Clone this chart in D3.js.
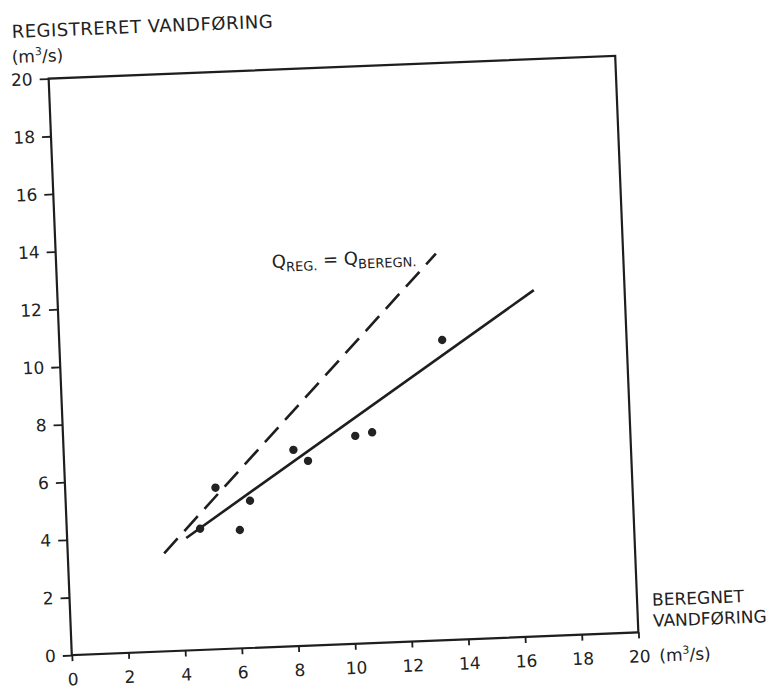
<!DOCTYPE html>
<html>
<head>
<meta charset="utf-8">
<script src="https://cdn.jsdelivr.net/npm/d3@7"></script>
<style>
  body { margin: 0; background: #fff; }
  text { font-family: "DejaVu Sans", sans-serif; fill: #222; }
</style>
</head>
<body>
<script>
// beregnet (x) and registreret (y) vandfoering, m3/s
var beregnet    = [4.7, 5.3, 6.1, 6.5, 8.1, 8.6, 10.3, 10.9, 13.5];
var registreret = [4.2, 5.6, 4.1, 5.1, 6.8, 6.4, 7.2, 7.3, 10.4];

var xTicks = [0, 2, 4, 6, 8, 10, 12, 14, 16, 18, 20];
var yTicks = [0, 2, 4, 6, 8, 10, 12, 14, 16, 18, 20];

// fitted line and the Q_REG = Q_BEREGN line (end points)
var fitLine   = [[4.2, 3.9], [16.8, 12.0]];
var equalLine = [[3.4, 3.4], [13.4, 13.4]];

var width = 774, height = 690;
var padLeft = 60, padTop = 67, plotW = 567, plotH = 577;

var svg = d3.select("body")
  .append("svg")
  .attr("width", width)
  .attr("height", height);

// the scanned sheet is a little tilted
var g = svg.append("g")
  .attr("transform", "rotate(-2.3, 343.5, 355.5)");

var x = d3.scaleLinear().domain([0, 20]).range([padLeft, padLeft + plotW]);
var y = d3.scaleLinear().domain([0, 20]).range([padTop + plotH, padTop]);

// frame
g.append("rect")
  .attr("x", x(0))
  .attr("y", y(20))
  .attr("width", x(20) - x(0))
  .attr("height", y(0) - y(20))
  .attr("fill", "none")
  .attr("stroke", "#1e1e1e")
  .attr("stroke-width", 2.2);

var yAxis = g.append("g")
  .attr("transform", "translate(" + padLeft + ",0)")
  .call(d3.axisLeft(y).tickValues(yTicks).tickSize(9).tickPadding(7).tickFormat(d3.format("d")));

var xAxis = g.append("g")
  .attr("transform", "translate(0," + (padTop + plotH) + ")")
  .call(d3.axisBottom(x).tickValues(xTicks).tickSize(6).tickPadding(12).tickFormat(d3.format("d")));

[yAxis, xAxis].forEach(function(a){
  a.select(".domain").remove();
  a.selectAll(".tick line").attr("stroke", "#1e1e1e").attr("stroke-width", 1.8);
  a.selectAll(".tick text")
    .attr("font-size", 17)
    .attr("font-family", "DejaVu Sans, sans-serif")
    .attr("fill", "#222");
});

var line = d3.line()
  .x(function(d){ return x(d[0]); })
  .y(function(d){ return y(d[1]); });

g.append("path")
  .attr("d", line(equalLine))
  .attr("fill", "none")
  .attr("stroke", "#1e1e1e")
  .attr("stroke-width", 2.6)
  .attr("stroke-dasharray", "20,10");

g.append("path")
  .attr("d", line(fitLine))
  .attr("fill", "none")
  .attr("stroke", "#1e1e1e")
  .attr("stroke-width", 2.6);

g.selectAll("circle.pt")
  .data(beregnet)
  .enter()
  .append("circle")
  .attr("class", "pt")
  .attr("cx", function(d){ return x(d); })
  .attr("cy", function(d, i){ return y(registreret[i]); })
  .attr("r", 4.2)
  .attr("fill", "#222");

// Q_REG. = Q_BEREGN. label
var q = g.append("text")
  .attr("x", x(7.6))
  .attr("y", y(13.13))
  .attr("font-size", 18);
q.append("tspan").text("Q");
q.append("tspan").attr("font-size", 13).attr("dy", 4).text("REG.");
q.append("tspan").attr("dy", -4).text(" = Q");
q.append("tspan").attr("font-size", 13).attr("dy", 4).text("BEREGN.");

// y axis title
g.append("text")
  .attr("x", 25)
  .attr("y", 25)
  .attr("font-size", 18)
  .attr("letter-spacing", 0.5)
  .text("REGISTRERET VANDFØRING");

var unitY = g.append("text")
  .attr("x", 24)
  .attr("y", 50)
  .attr("font-size", 17);
unitY.append("tspan").text("(m");
unitY.append("tspan").attr("font-size", 11).attr("dy", -7).text("3");
unitY.append("tspan").attr("dy", 7).text("/s)");

// x axis title
g.append("text")
  .attr("x", x(20) + 15)
  .attr("y", 618)
  .attr("font-size", 17)
  .text("BEREGNET");
g.append("text")
  .attr("x", x(20) + 15)
  .attr("y", 639)
  .attr("font-size", 17)
  .text("VANDFØRING");

var unitX = g.append("text")
  .attr("x", x(20) + 20)
  .attr("y", padTop + plotH + 30)
  .attr("font-size", 17);
unitX.append("tspan").text("(m");
unitX.append("tspan").attr("font-size", 11).attr("dy", -7).text("3");
unitX.append("tspan").attr("dy", 7).text("/s)");
</script>
</body>
</html>
